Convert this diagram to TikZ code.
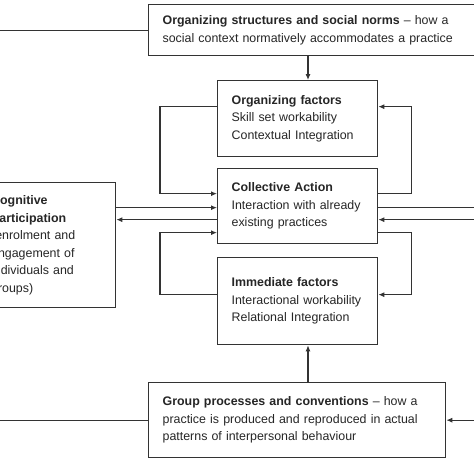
\documentclass[tikz,border=0pt]{standalone}
\usepackage{fontspec}
\setmainfont{Liberation Sans}
\usepackage{tikz}
\usetikzlibrary{arrows.meta}
\definecolor{ink}{HTML}{333333}
\def\boxfont{\fontsize{12.4}{17.5}\selectfont}

\begin{document}
\begin{tikzpicture}[x=1pt, y=-1pt,
	box/.style={draw=ink, line width=1.3pt, fill=white, rectangle, align=left, inner xsep=14pt, anchor=north west, font=\boxfont, text=black!85},
	link/.style={draw=ink, line width=1.1pt},
	feed/.style={link, -{Latex[length=6pt,width=5pt]}}]
		%%%%% START %%%%%
		\useasboundingbox (0,0) rectangle (474,474);
		\clip (0,0) rectangle (474,474);
		
		\coordinate (lim) at (-10,0);
		\coordinate (rim) at (490,0);
		\coordinate (ax) at (308,0);
		
		\node[box, text width=304pt, minimum height=51pt] (norms) at (148,4)
			{\textbf{Organizing structures and social norms} -- how a\\ social context normatively accommodates a practice};
		\node[box, text width=132pt, minimum height=76pt] (orgf) at (217,80)
			{\textbf{Organizing factors}\\ Skill set workability\\ Contextual Integration};
		\node[box, text width=132pt, minimum height=75pt] (act) at (217,168)
			{\textbf{Collective Action}\\ Interaction with already\\ existing practices};
		\node[box, text width=132pt, minimum height=87pt] (immf) at (217,257)
			{\textbf{Immediate factors}\\ Interactional workability\\ Relational Integration};
		\node[box, text width=269pt, minimum height=75pt] (group) at (148,382)
			{\textbf{Group processes and conventions} -- how a\\ practice is produced and reproduced in actual\\ patterns of interpersonal behaviour};
		\node[box, text width=110.5pt, minimum height=125pt] (cog) at (-23.5,182)
			{\textbf{Cognitive}\\ \textbf{Participation}\\ (enrolment and\\ engagement of\\ individuals and\\ groups)};
		
		% outer lines
		\draw[link] (lim |- norms.west) -- (norms.west);
		\draw[link] (lim |- group.west) -- (group.west);
		\draw[feed] (rim |- group.east) -- (group.east);
		\draw[feed] (norms.south -| ax) -- (orgf.north -| ax);
		\draw[feed] (group.north -| ax) -- (immf.south -| ax);
		
		% collective action and cognitive participation
		\draw[feed] ([yshift=37.5pt]cog.east) -- ([yshift=37.5pt]cog.east -| act.west);
		\draw[feed] ([yshift=-13.5pt]act.west) -- ([yshift=-13.5pt]act.west -| cog.east);
		\draw[link] ([yshift=-1.5pt]act.east) -- ([yshift=-1.5pt]act.east -| rim);
		\draw[feed] ([yshift=-13.5pt]act.east -| rim) -- ([yshift=-13.5pt]act.east);
		
		% loops
		\draw[feed] ([yshift=12pt]orgf.west) -- ++(-57,0) |- ([yshift=12.5pt]act.west);
		\draw[feed] ([yshift=12.5pt]act.east) -- ++(33,0) |- ([yshift=12pt]orgf.east);
		\draw[feed] ([yshift=6.5pt]immf.west) -- ++(-57,0) |- ([yshift=-26.5pt]act.west);
		\draw[feed] ([yshift=-26.5pt]act.east) -- ++(33,0) |- ([yshift=6.5pt]immf.east);
		%%%%% END %%%%%
\end{tikzpicture}
\end{document}
